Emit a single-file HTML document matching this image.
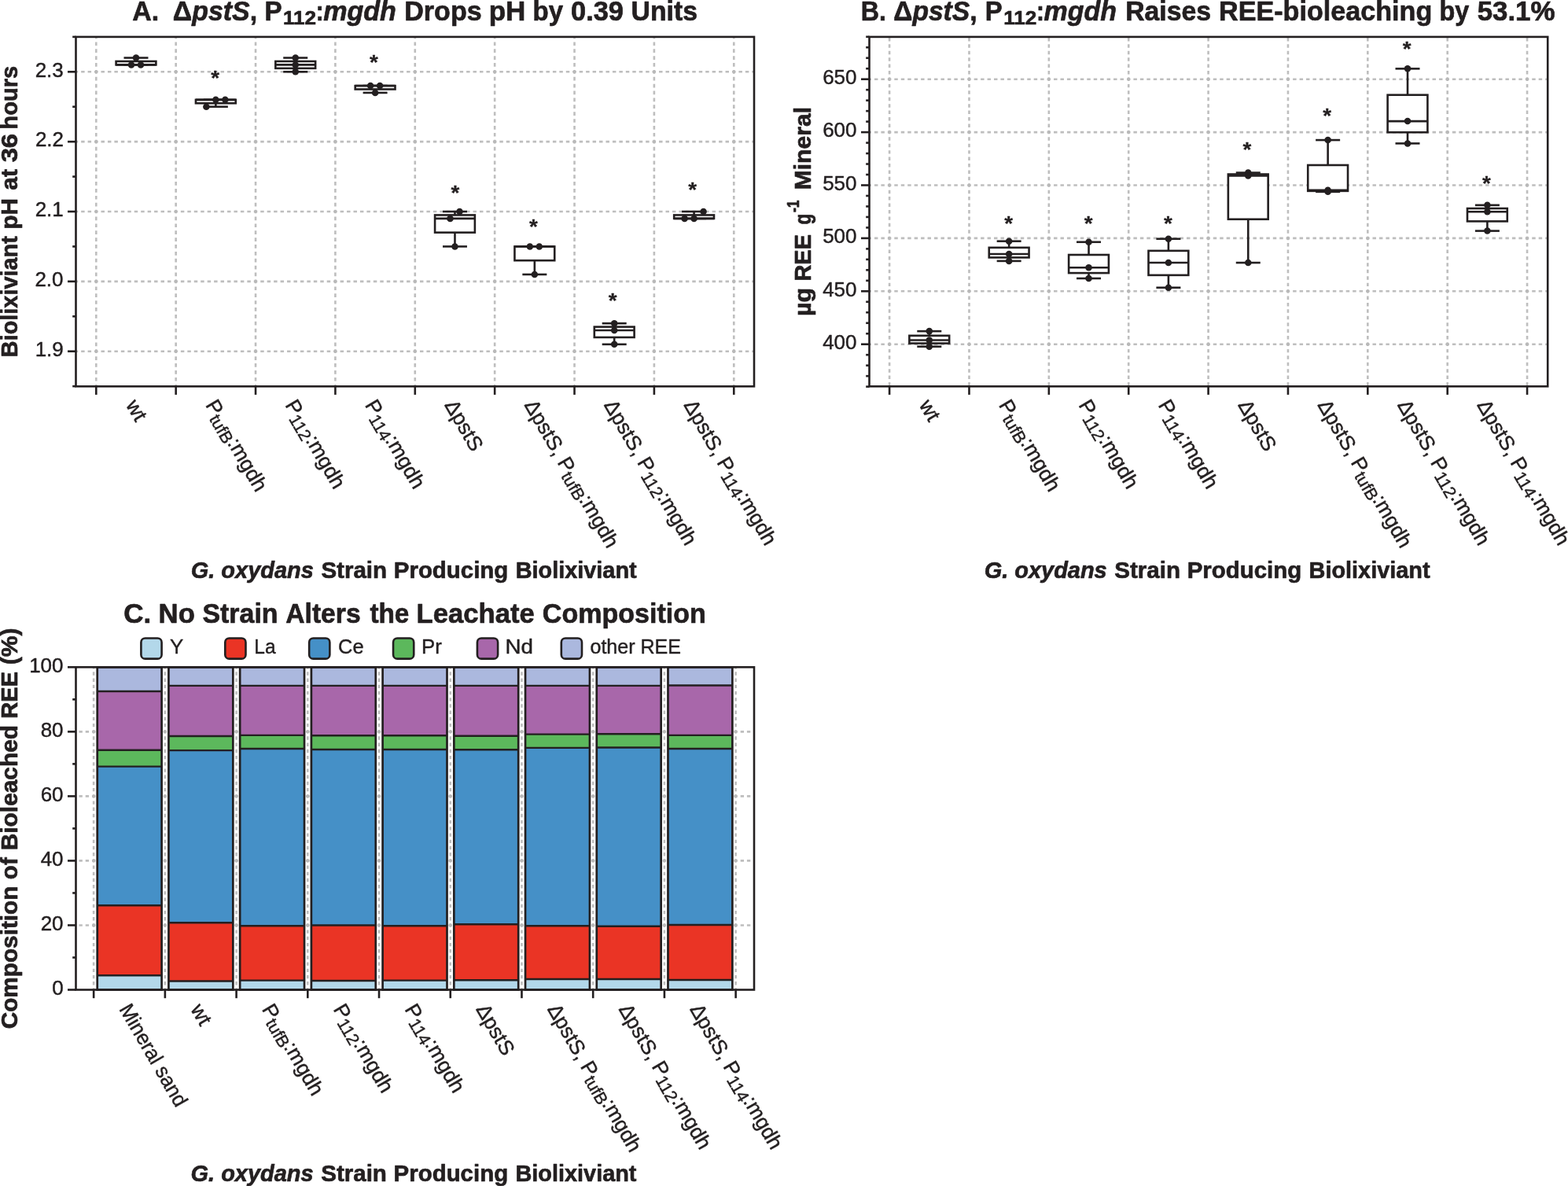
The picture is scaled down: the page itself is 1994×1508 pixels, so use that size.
<!DOCTYPE html>
<html lang="en">
<head>
<meta charset="utf-8">
<title>G. oxydans bioleaching figure</title>
<style>
html,body{margin:0;padding:0;background:#fff;}
body{width:1994px;height:1508px;overflow:hidden;}
svg{display:block;}
text{font-family:'Liberation Sans', 'DejaVu Sans', sans-serif;fill:#231f20;stroke:#231f20;stroke-width:0.45px;stroke-linejoin:round;}
text.b{stroke-width:0.7px;}
</style>
</head>
<body>
<svg width="1994" height="1508" viewBox="0 0 1994 1508" role="img" aria-label="Figure: G. oxydans strain engineering lowers biolixiviant pH and raises rare earth element bioleaching">
<rect x="0" y="0" width="1994" height="1508" fill="#ffffff"/>
<line x1="96.5" y1="91.3" x2="959" y2="91.3" stroke="#bebebe" stroke-width="2.6" stroke-dasharray="4.477 3.97" stroke-dashoffset="1.781"/>
<line x1="96.5" y1="180.15" x2="959" y2="180.15" stroke="#bebebe" stroke-width="2.6" stroke-dasharray="4.477 3.97" stroke-dashoffset="1.781"/>
<line x1="96.5" y1="269" x2="959" y2="269" stroke="#bebebe" stroke-width="2.6" stroke-dasharray="4.477 3.97" stroke-dashoffset="1.781"/>
<line x1="96.5" y1="357.85" x2="959" y2="357.85" stroke="#bebebe" stroke-width="2.6" stroke-dasharray="4.477 3.97" stroke-dashoffset="1.781"/>
<line x1="96.5" y1="446.7" x2="959" y2="446.7" stroke="#bebebe" stroke-width="2.6" stroke-dasharray="4.477 3.97" stroke-dashoffset="1.781"/>
<line x1="122.3" y1="46.9" x2="122.3" y2="491.3" stroke="#bebebe" stroke-width="2.6" stroke-dasharray="4.709 4.176" stroke-dashoffset="2.38"/>
<line x1="223.67" y1="46.9" x2="223.67" y2="491.3" stroke="#bebebe" stroke-width="2.6" stroke-dasharray="4.709 4.176" stroke-dashoffset="2.38"/>
<line x1="325.04" y1="46.9" x2="325.04" y2="491.3" stroke="#bebebe" stroke-width="2.6" stroke-dasharray="4.709 4.176" stroke-dashoffset="2.38"/>
<line x1="426.41" y1="46.9" x2="426.41" y2="491.3" stroke="#bebebe" stroke-width="2.6" stroke-dasharray="4.709 4.176" stroke-dashoffset="2.38"/>
<line x1="527.78" y1="46.9" x2="527.78" y2="491.3" stroke="#bebebe" stroke-width="2.6" stroke-dasharray="4.709 4.176" stroke-dashoffset="2.38"/>
<line x1="629.15" y1="46.9" x2="629.15" y2="491.3" stroke="#bebebe" stroke-width="2.6" stroke-dasharray="4.709 4.176" stroke-dashoffset="2.38"/>
<line x1="730.52" y1="46.9" x2="730.52" y2="491.3" stroke="#bebebe" stroke-width="2.6" stroke-dasharray="4.709 4.176" stroke-dashoffset="2.38"/>
<line x1="831.89" y1="46.9" x2="831.89" y2="491.3" stroke="#bebebe" stroke-width="2.6" stroke-dasharray="4.709 4.176" stroke-dashoffset="2.38"/>
<line x1="933.26" y1="46.9" x2="933.26" y2="491.3" stroke="#bebebe" stroke-width="2.6" stroke-dasharray="4.709 4.176" stroke-dashoffset="2.38"/>
<circle cx="122.3" cy="91.3" r="2.1" fill="#b9b9b9"/>
<circle cx="223.67" cy="91.3" r="2.1" fill="#b9b9b9"/>
<circle cx="325.04" cy="91.3" r="2.1" fill="#b9b9b9"/>
<circle cx="426.41" cy="91.3" r="2.1" fill="#b9b9b9"/>
<circle cx="527.78" cy="91.3" r="2.1" fill="#b9b9b9"/>
<circle cx="629.15" cy="91.3" r="2.1" fill="#b9b9b9"/>
<circle cx="730.52" cy="91.3" r="2.1" fill="#b9b9b9"/>
<circle cx="831.89" cy="91.3" r="2.1" fill="#b9b9b9"/>
<circle cx="933.26" cy="91.3" r="2.1" fill="#b9b9b9"/>
<circle cx="122.3" cy="180.15" r="2.1" fill="#b9b9b9"/>
<circle cx="223.67" cy="180.15" r="2.1" fill="#b9b9b9"/>
<circle cx="325.04" cy="180.15" r="2.1" fill="#b9b9b9"/>
<circle cx="426.41" cy="180.15" r="2.1" fill="#b9b9b9"/>
<circle cx="527.78" cy="180.15" r="2.1" fill="#b9b9b9"/>
<circle cx="629.15" cy="180.15" r="2.1" fill="#b9b9b9"/>
<circle cx="730.52" cy="180.15" r="2.1" fill="#b9b9b9"/>
<circle cx="831.89" cy="180.15" r="2.1" fill="#b9b9b9"/>
<circle cx="933.26" cy="180.15" r="2.1" fill="#b9b9b9"/>
<circle cx="122.3" cy="269" r="2.1" fill="#b9b9b9"/>
<circle cx="223.67" cy="269" r="2.1" fill="#b9b9b9"/>
<circle cx="325.04" cy="269" r="2.1" fill="#b9b9b9"/>
<circle cx="426.41" cy="269" r="2.1" fill="#b9b9b9"/>
<circle cx="527.78" cy="269" r="2.1" fill="#b9b9b9"/>
<circle cx="629.15" cy="269" r="2.1" fill="#b9b9b9"/>
<circle cx="730.52" cy="269" r="2.1" fill="#b9b9b9"/>
<circle cx="831.89" cy="269" r="2.1" fill="#b9b9b9"/>
<circle cx="933.26" cy="269" r="2.1" fill="#b9b9b9"/>
<circle cx="122.3" cy="357.85" r="2.1" fill="#b9b9b9"/>
<circle cx="223.67" cy="357.85" r="2.1" fill="#b9b9b9"/>
<circle cx="325.04" cy="357.85" r="2.1" fill="#b9b9b9"/>
<circle cx="426.41" cy="357.85" r="2.1" fill="#b9b9b9"/>
<circle cx="527.78" cy="357.85" r="2.1" fill="#b9b9b9"/>
<circle cx="629.15" cy="357.85" r="2.1" fill="#b9b9b9"/>
<circle cx="730.52" cy="357.85" r="2.1" fill="#b9b9b9"/>
<circle cx="831.89" cy="357.85" r="2.1" fill="#b9b9b9"/>
<circle cx="933.26" cy="357.85" r="2.1" fill="#b9b9b9"/>
<circle cx="122.3" cy="446.7" r="2.1" fill="#b9b9b9"/>
<circle cx="223.67" cy="446.7" r="2.1" fill="#b9b9b9"/>
<circle cx="325.04" cy="446.7" r="2.1" fill="#b9b9b9"/>
<circle cx="426.41" cy="446.7" r="2.1" fill="#b9b9b9"/>
<circle cx="527.78" cy="446.7" r="2.1" fill="#b9b9b9"/>
<circle cx="629.15" cy="446.7" r="2.1" fill="#b9b9b9"/>
<circle cx="730.52" cy="446.7" r="2.1" fill="#b9b9b9"/>
<circle cx="831.89" cy="446.7" r="2.1" fill="#b9b9b9"/>
<circle cx="933.26" cy="446.7" r="2.1" fill="#b9b9b9"/>
<line x1="86" y1="91.3" x2="96.5" y2="91.3" stroke="#231f20" stroke-width="2.6" />
<line x1="86" y1="180.15" x2="96.5" y2="180.15" stroke="#231f20" stroke-width="2.6" />
<line x1="86" y1="269" x2="96.5" y2="269" stroke="#231f20" stroke-width="2.6" />
<line x1="86" y1="357.85" x2="96.5" y2="357.85" stroke="#231f20" stroke-width="2.6" />
<line x1="86" y1="446.7" x2="96.5" y2="446.7" stroke="#231f20" stroke-width="2.6" />
<line x1="92.2" y1="46.88" x2="96.5" y2="46.88" stroke="#231f20" stroke-width="2.6" />
<line x1="92.2" y1="135.72" x2="96.5" y2="135.72" stroke="#231f20" stroke-width="2.6" />
<line x1="92.2" y1="224.57" x2="96.5" y2="224.57" stroke="#231f20" stroke-width="2.6" />
<line x1="92.2" y1="313.43" x2="96.5" y2="313.43" stroke="#231f20" stroke-width="2.6" />
<line x1="92.2" y1="402.27" x2="96.5" y2="402.27" stroke="#231f20" stroke-width="2.6" />
<line x1="92.2" y1="491.12" x2="96.5" y2="491.12" stroke="#231f20" stroke-width="2.6" />
<line x1="122.3" y1="491.3" x2="122.3" y2="501.9" stroke="#231f20" stroke-width="2.6" />
<line x1="223.67" y1="491.3" x2="223.67" y2="501.9" stroke="#231f20" stroke-width="2.6" />
<line x1="325.04" y1="491.3" x2="325.04" y2="501.9" stroke="#231f20" stroke-width="2.6" />
<line x1="426.41" y1="491.3" x2="426.41" y2="501.9" stroke="#231f20" stroke-width="2.6" />
<line x1="527.78" y1="491.3" x2="527.78" y2="501.9" stroke="#231f20" stroke-width="2.6" />
<line x1="629.15" y1="491.3" x2="629.15" y2="501.9" stroke="#231f20" stroke-width="2.6" />
<line x1="730.52" y1="491.3" x2="730.52" y2="501.9" stroke="#231f20" stroke-width="2.6" />
<line x1="831.89" y1="491.3" x2="831.89" y2="501.9" stroke="#231f20" stroke-width="2.6" />
<line x1="933.26" y1="491.3" x2="933.26" y2="501.9" stroke="#231f20" stroke-width="2.6" />
<rect x="96.5" y="46.9" width="862.5" height="444.4" fill="none" stroke="#231f20" stroke-width="2.6"/>
<text transform="translate(44.65 97.6) scale(1 1)" font-size="26">2.3</text>
<text transform="translate(44.9 186.45) scale(1 1)" font-size="26">2.2</text>
<text transform="translate(44.65 275.3) scale(1 1)" font-size="26">2.1</text>
<text transform="translate(44.4 364.15) scale(1 1)" font-size="26">2.0</text>
<text transform="translate(44.65 453) scale(1 1)" font-size="26">1.9</text>
<line x1="172.99" y1="77.97" x2="172.99" y2="73.53" stroke="#231f20" stroke-width="2.6" />
<line x1="157.49" y1="73.53" x2="188.49" y2="73.53" stroke="#231f20" stroke-width="2.6" />
<line x1="157.49" y1="82.41" x2="188.49" y2="82.41" stroke="#231f20" stroke-width="2.6" />
<rect x="147.59" y="77.97" width="50.8" height="4.44" fill="#fff" stroke="#231f20" stroke-width="2.6"/>
<line x1="147.59" y1="82.41" x2="198.39" y2="82.41" stroke="#231f20" stroke-width="2.6" />
<circle cx="172.99" cy="73.53" r="4.25" fill="#231f20"/>
<circle cx="166.99" cy="82.41" r="4.25" fill="#231f20"/>
<circle cx="178.99" cy="82.41" r="4.25" fill="#231f20"/>
<line x1="274.36" y1="131.28" x2="274.36" y2="135.72" stroke="#231f20" stroke-width="2.6" />
<line x1="258.86" y1="126.84" x2="289.86" y2="126.84" stroke="#231f20" stroke-width="2.6" />
<line x1="258.86" y1="135.72" x2="289.86" y2="135.72" stroke="#231f20" stroke-width="2.6" />
<rect x="248.96" y="126.84" width="50.8" height="4.44" fill="#fff" stroke="#231f20" stroke-width="2.6"/>
<line x1="248.96" y1="126.84" x2="299.75" y2="126.84" stroke="#231f20" stroke-width="2.6" />
<circle cx="262.36" cy="135.72" r="4.25" fill="#231f20"/>
<circle cx="274.36" cy="126.84" r="4.25" fill="#231f20"/>
<circle cx="286.36" cy="126.84" r="4.25" fill="#231f20"/>
<text transform="translate(268.3 108.42) scale(1 0.91)" font-size="27.8" font-weight="bold" style="stroke-width:0.3px">*</text>
<line x1="375.73" y1="77.97" x2="375.73" y2="73.53" stroke="#231f20" stroke-width="2.6" />
<line x1="375.73" y1="86.86" x2="375.73" y2="91.3" stroke="#231f20" stroke-width="2.6" />
<line x1="360.23" y1="73.53" x2="391.23" y2="73.53" stroke="#231f20" stroke-width="2.6" />
<line x1="360.23" y1="91.3" x2="391.23" y2="91.3" stroke="#231f20" stroke-width="2.6" />
<rect x="350.33" y="77.97" width="50.8" height="8.89" fill="#fff" stroke="#231f20" stroke-width="2.6"/>
<line x1="350.33" y1="82.41" x2="401.12" y2="82.41" stroke="#231f20" stroke-width="2.6" />
<circle cx="375.73" cy="73.53" r="4.25" fill="#231f20"/>
<circle cx="375.73" cy="82.41" r="4.25" fill="#231f20"/>
<circle cx="375.73" cy="91.3" r="4.25" fill="#231f20"/>
<line x1="477.1" y1="113.51" x2="477.1" y2="117.95" stroke="#231f20" stroke-width="2.6" />
<line x1="461.6" y1="109.07" x2="492.6" y2="109.07" stroke="#231f20" stroke-width="2.6" />
<line x1="461.6" y1="117.95" x2="492.6" y2="117.95" stroke="#231f20" stroke-width="2.6" />
<rect x="451.7" y="109.07" width="50.8" height="4.44" fill="#fff" stroke="#231f20" stroke-width="2.6"/>
<line x1="451.7" y1="109.07" x2="502.5" y2="109.07" stroke="#231f20" stroke-width="2.6" />
<circle cx="471.1" cy="109.07" r="4.25" fill="#231f20"/>
<circle cx="483.1" cy="109.07" r="4.25" fill="#231f20"/>
<circle cx="477.1" cy="117.95" r="4.25" fill="#231f20"/>
<text transform="translate(469.9 87.52) scale(1 0.91)" font-size="27.8" font-weight="bold" style="stroke-width:0.3px">*</text>
<line x1="578.47" y1="273.44" x2="578.47" y2="269" stroke="#231f20" stroke-width="2.6" />
<line x1="578.47" y1="295.65" x2="578.47" y2="313.43" stroke="#231f20" stroke-width="2.6" />
<line x1="562.97" y1="269" x2="593.97" y2="269" stroke="#231f20" stroke-width="2.6" />
<line x1="562.97" y1="313.43" x2="593.97" y2="313.43" stroke="#231f20" stroke-width="2.6" />
<rect x="553.07" y="273.44" width="50.8" height="22.21" fill="#fff" stroke="#231f20" stroke-width="2.6"/>
<line x1="553.07" y1="277.88" x2="603.87" y2="277.88" stroke="#231f20" stroke-width="2.6" />
<circle cx="584.47" cy="269" r="4.25" fill="#231f20"/>
<circle cx="572.47" cy="277.88" r="4.25" fill="#231f20"/>
<circle cx="578.47" cy="313.43" r="4.25" fill="#231f20"/>
<text transform="translate(573.5 254.12) scale(1 0.91)" font-size="27.8" font-weight="bold" style="stroke-width:0.3px">*</text>
<line x1="679.84" y1="331.19" x2="679.84" y2="348.97" stroke="#231f20" stroke-width="2.6" />
<line x1="664.34" y1="313.43" x2="695.34" y2="313.43" stroke="#231f20" stroke-width="2.6" />
<line x1="664.34" y1="348.97" x2="695.34" y2="348.97" stroke="#231f20" stroke-width="2.6" />
<rect x="654.44" y="313.43" width="50.8" height="17.77" fill="#fff" stroke="#231f20" stroke-width="2.6"/>
<line x1="654.44" y1="313.43" x2="705.24" y2="313.43" stroke="#231f20" stroke-width="2.6" />
<circle cx="673.84" cy="313.43" r="4.25" fill="#231f20"/>
<circle cx="685.84" cy="313.43" r="4.25" fill="#231f20"/>
<circle cx="679.84" cy="348.97" r="4.25" fill="#231f20"/>
<text transform="translate(673.1 296.82) scale(1 0.91)" font-size="27.8" font-weight="bold" style="stroke-width:0.3px">*</text>
<line x1="781.2" y1="415.6" x2="781.2" y2="411.16" stroke="#231f20" stroke-width="2.6" />
<line x1="781.2" y1="428.93" x2="781.2" y2="437.81" stroke="#231f20" stroke-width="2.6" />
<line x1="765.7" y1="411.16" x2="796.7" y2="411.16" stroke="#231f20" stroke-width="2.6" />
<line x1="765.7" y1="437.81" x2="796.7" y2="437.81" stroke="#231f20" stroke-width="2.6" />
<rect x="755.8" y="415.6" width="50.8" height="13.33" fill="#fff" stroke="#231f20" stroke-width="2.6"/>
<line x1="755.8" y1="420.04" x2="806.6" y2="420.04" stroke="#231f20" stroke-width="2.6" />
<circle cx="781.2" cy="411.16" r="4.25" fill="#231f20"/>
<circle cx="781.2" cy="420.04" r="4.25" fill="#231f20"/>
<circle cx="781.2" cy="437.81" r="4.25" fill="#231f20"/>
<text transform="translate(773.7 390.82) scale(1 0.91)" font-size="27.8" font-weight="bold" style="stroke-width:0.3px">*</text>
<line x1="882.58" y1="273.44" x2="882.58" y2="269" stroke="#231f20" stroke-width="2.6" />
<line x1="867.08" y1="269" x2="898.08" y2="269" stroke="#231f20" stroke-width="2.6" />
<line x1="867.08" y1="277.88" x2="898.08" y2="277.88" stroke="#231f20" stroke-width="2.6" />
<rect x="857.18" y="273.44" width="50.8" height="4.44" fill="#fff" stroke="#231f20" stroke-width="2.6"/>
<line x1="857.18" y1="277.88" x2="907.98" y2="277.88" stroke="#231f20" stroke-width="2.6" />
<circle cx="894.58" cy="269" r="4.25" fill="#231f20"/>
<circle cx="870.58" cy="277.88" r="4.25" fill="#231f20"/>
<circle cx="882.58" cy="277.88" r="4.25" fill="#231f20"/>
<text transform="translate(875.2 249.82) scale(1 0.91)" font-size="27.8" font-weight="bold" style="stroke-width:0.3px">*</text>
<text transform="translate(159.39 514.8) rotate(60)" font-size="26.4">wt</text>
<text transform="translate(260.75 514.8) rotate(60)" font-size="26.4">P<tspan font-size="21.65" dy="4.7">tufB</tspan><tspan dy="-4.7">:mgdh</tspan></text>
<text transform="translate(362.12 514.8) rotate(60)" font-size="26.4">P<tspan font-size="21.65" dy="4.7">112</tspan><tspan dy="-4.7">:mgdh</tspan></text>
<text transform="translate(463.5 514.8) rotate(60)" font-size="26.4">P<tspan font-size="21.65" dy="4.7">114</tspan><tspan dy="-4.7">:mgdh</tspan></text>
<text transform="translate(564.87 514.8) rotate(60)" font-size="26.4">ΔpstS</text>
<text transform="translate(666.24 514.8) rotate(60) scale(0.99 1)" font-size="26.4">ΔpstS, P<tspan font-size="21.65" dy="4.7">tufB</tspan><tspan dy="-4.7">:mgdh</tspan></text>
<text transform="translate(767.6 514.8) rotate(60) scale(0.99 1)" font-size="26.4">ΔpstS, P<tspan font-size="21.65" dy="4.7">112</tspan><tspan dy="-4.7">:mgdh</tspan></text>
<text transform="translate(868.98 514.8) rotate(60) scale(0.99 1)" font-size="26.4">ΔpstS, P<tspan font-size="21.65" dy="4.7">114</tspan><tspan dy="-4.7">:mgdh</tspan></text>
<text transform="translate(168.212 25.9) scale(0.9767 1)" font-size="34.8" font-weight="bold" class="b">A.</text>
<text transform="translate(219.826 25.9) scale(0.9744 1)" font-size="34.8" font-weight="bold" class="b">Δ<tspan font-style="italic">pstS</tspan>,</text>
<text transform="translate(336.488 25.9) scale(0.9561 1)" font-size="34.8" font-weight="bold" class="b">P</text>
<text transform="translate(359.969 31.1) scale(1.0649 1)" font-size="24.5" font-weight="bold" class="b">112</text>
<text transform="translate(401.736 25.9) scale(0.8545 1)" font-size="34.8" font-weight="bold" class="b">:</text>
<text transform="translate(411.155 25.9) scale(0.9802 1)" font-size="34.8" font-weight="bold" class="b"><tspan font-style="italic">mgdh</tspan></text>
<text transform="translate(514.241 25.9) scale(0.9795 1)" font-size="34.8" font-weight="bold" class="b">Drops</text>
<text transform="translate(621.686 25.9) scale(1.0071 1)" font-size="34.8" font-weight="bold" class="b">pH</text>
<text transform="translate(677.603 25.9) scale(0.9487 1)" font-size="34.8" font-weight="bold" class="b">by</text>
<text transform="translate(726.011 25.9) scale(0.9886 1)" font-size="34.8" font-weight="bold" class="b">0.39</text>
<text transform="translate(802.603 25.9) scale(0.9697 1)" font-size="34.8" font-weight="bold" class="b">Units</text>
<text transform="translate(22.2 452.7) rotate(-90) translate(-1.467 0) scale(0.9527 1)" font-size="30.3" font-weight="bold" class="b">Biolixiviant</text>
<text transform="translate(22.2 452.7) rotate(-90) translate(161.234 0) scale(0.9772 1)" font-size="30.3" font-weight="bold" class="b">pH</text>
<text transform="translate(22.2 452.7) rotate(-90) translate(211.008 0) scale(0.9849 1)" font-size="30.3" font-weight="bold" class="b">at</text>
<text transform="translate(22.2 452.7) rotate(-90) translate(246.33 0) scale(1.0809 1)" font-size="30.3" font-weight="bold" class="b">36</text>
<text transform="translate(22.2 452.7) rotate(-90) translate(288.014 0) scale(0.9632 1)" font-size="30.3" font-weight="bold" class="b">hours</text>
<text transform="translate(242.744 735) scale(0.9558 1)" font-size="30.3" font-weight="bold" class="b" font-style="italic">G. oxydans</text>
<text transform="translate(408.412 735) scale(0.975 1)" font-size="30.3" font-weight="bold" class="b">Strain</text>
<text transform="translate(500.799 735) scale(0.972 1)" font-size="30.3" font-weight="bold" class="b">Producing</text>
<text transform="translate(655.632 735) scale(0.9534 1)" font-size="30.3" font-weight="bold" class="b">Biolixiviant</text>
<line x1="1105.5" y1="100.7" x2="1968.2" y2="100.7" stroke="#bebebe" stroke-width="2.6" stroke-dasharray="4.477 3.97" stroke-dashoffset="1.981"/>
<line x1="1105.5" y1="168.1" x2="1968.2" y2="168.1" stroke="#bebebe" stroke-width="2.6" stroke-dasharray="4.477 3.97" stroke-dashoffset="1.981"/>
<line x1="1105.5" y1="235.5" x2="1968.2" y2="235.5" stroke="#bebebe" stroke-width="2.6" stroke-dasharray="4.477 3.97" stroke-dashoffset="1.981"/>
<line x1="1105.5" y1="302.9" x2="1968.2" y2="302.9" stroke="#bebebe" stroke-width="2.6" stroke-dasharray="4.477 3.97" stroke-dashoffset="1.981"/>
<line x1="1105.5" y1="370.3" x2="1968.2" y2="370.3" stroke="#bebebe" stroke-width="2.6" stroke-dasharray="4.477 3.97" stroke-dashoffset="1.981"/>
<line x1="1105.5" y1="437.7" x2="1968.2" y2="437.7" stroke="#bebebe" stroke-width="2.6" stroke-dasharray="4.477 3.97" stroke-dashoffset="1.981"/>
<line x1="1131.1" y1="46.9" x2="1131.1" y2="491.3" stroke="#bebebe" stroke-width="2.6" stroke-dasharray="4.465 3.96" stroke-dashoffset="7.408"/>
<line x1="1232.47" y1="46.9" x2="1232.47" y2="491.3" stroke="#bebebe" stroke-width="2.6" stroke-dasharray="4.465 3.96" stroke-dashoffset="7.408"/>
<line x1="1333.84" y1="46.9" x2="1333.84" y2="491.3" stroke="#bebebe" stroke-width="2.6" stroke-dasharray="4.465 3.96" stroke-dashoffset="7.408"/>
<line x1="1435.21" y1="46.9" x2="1435.21" y2="491.3" stroke="#bebebe" stroke-width="2.6" stroke-dasharray="4.465 3.96" stroke-dashoffset="7.408"/>
<line x1="1536.58" y1="46.9" x2="1536.58" y2="491.3" stroke="#bebebe" stroke-width="2.6" stroke-dasharray="4.465 3.96" stroke-dashoffset="7.408"/>
<line x1="1637.95" y1="46.9" x2="1637.95" y2="491.3" stroke="#bebebe" stroke-width="2.6" stroke-dasharray="4.465 3.96" stroke-dashoffset="7.408"/>
<line x1="1739.32" y1="46.9" x2="1739.32" y2="491.3" stroke="#bebebe" stroke-width="2.6" stroke-dasharray="4.465 3.96" stroke-dashoffset="7.408"/>
<line x1="1840.69" y1="46.9" x2="1840.69" y2="491.3" stroke="#bebebe" stroke-width="2.6" stroke-dasharray="4.465 3.96" stroke-dashoffset="7.408"/>
<line x1="1942.06" y1="46.9" x2="1942.06" y2="491.3" stroke="#bebebe" stroke-width="2.6" stroke-dasharray="4.465 3.96" stroke-dashoffset="7.408"/>
<circle cx="1131.1" cy="100.7" r="2.1" fill="#b9b9b9"/>
<circle cx="1232.47" cy="100.7" r="2.1" fill="#b9b9b9"/>
<circle cx="1333.84" cy="100.7" r="2.1" fill="#b9b9b9"/>
<circle cx="1435.21" cy="100.7" r="2.1" fill="#b9b9b9"/>
<circle cx="1536.58" cy="100.7" r="2.1" fill="#b9b9b9"/>
<circle cx="1637.95" cy="100.7" r="2.1" fill="#b9b9b9"/>
<circle cx="1739.32" cy="100.7" r="2.1" fill="#b9b9b9"/>
<circle cx="1840.69" cy="100.7" r="2.1" fill="#b9b9b9"/>
<circle cx="1942.06" cy="100.7" r="2.1" fill="#b9b9b9"/>
<circle cx="1131.1" cy="168.1" r="2.1" fill="#b9b9b9"/>
<circle cx="1232.47" cy="168.1" r="2.1" fill="#b9b9b9"/>
<circle cx="1333.84" cy="168.1" r="2.1" fill="#b9b9b9"/>
<circle cx="1435.21" cy="168.1" r="2.1" fill="#b9b9b9"/>
<circle cx="1536.58" cy="168.1" r="2.1" fill="#b9b9b9"/>
<circle cx="1637.95" cy="168.1" r="2.1" fill="#b9b9b9"/>
<circle cx="1739.32" cy="168.1" r="2.1" fill="#b9b9b9"/>
<circle cx="1840.69" cy="168.1" r="2.1" fill="#b9b9b9"/>
<circle cx="1942.06" cy="168.1" r="2.1" fill="#b9b9b9"/>
<circle cx="1131.1" cy="235.5" r="2.1" fill="#b9b9b9"/>
<circle cx="1232.47" cy="235.5" r="2.1" fill="#b9b9b9"/>
<circle cx="1333.84" cy="235.5" r="2.1" fill="#b9b9b9"/>
<circle cx="1435.21" cy="235.5" r="2.1" fill="#b9b9b9"/>
<circle cx="1536.58" cy="235.5" r="2.1" fill="#b9b9b9"/>
<circle cx="1637.95" cy="235.5" r="2.1" fill="#b9b9b9"/>
<circle cx="1739.32" cy="235.5" r="2.1" fill="#b9b9b9"/>
<circle cx="1840.69" cy="235.5" r="2.1" fill="#b9b9b9"/>
<circle cx="1942.06" cy="235.5" r="2.1" fill="#b9b9b9"/>
<circle cx="1131.1" cy="302.9" r="2.1" fill="#b9b9b9"/>
<circle cx="1232.47" cy="302.9" r="2.1" fill="#b9b9b9"/>
<circle cx="1333.84" cy="302.9" r="2.1" fill="#b9b9b9"/>
<circle cx="1435.21" cy="302.9" r="2.1" fill="#b9b9b9"/>
<circle cx="1536.58" cy="302.9" r="2.1" fill="#b9b9b9"/>
<circle cx="1637.95" cy="302.9" r="2.1" fill="#b9b9b9"/>
<circle cx="1739.32" cy="302.9" r="2.1" fill="#b9b9b9"/>
<circle cx="1840.69" cy="302.9" r="2.1" fill="#b9b9b9"/>
<circle cx="1942.06" cy="302.9" r="2.1" fill="#b9b9b9"/>
<circle cx="1131.1" cy="370.3" r="2.1" fill="#b9b9b9"/>
<circle cx="1232.47" cy="370.3" r="2.1" fill="#b9b9b9"/>
<circle cx="1333.84" cy="370.3" r="2.1" fill="#b9b9b9"/>
<circle cx="1435.21" cy="370.3" r="2.1" fill="#b9b9b9"/>
<circle cx="1536.58" cy="370.3" r="2.1" fill="#b9b9b9"/>
<circle cx="1637.95" cy="370.3" r="2.1" fill="#b9b9b9"/>
<circle cx="1739.32" cy="370.3" r="2.1" fill="#b9b9b9"/>
<circle cx="1840.69" cy="370.3" r="2.1" fill="#b9b9b9"/>
<circle cx="1942.06" cy="370.3" r="2.1" fill="#b9b9b9"/>
<circle cx="1131.1" cy="437.7" r="2.1" fill="#b9b9b9"/>
<circle cx="1232.47" cy="437.7" r="2.1" fill="#b9b9b9"/>
<circle cx="1333.84" cy="437.7" r="2.1" fill="#b9b9b9"/>
<circle cx="1435.21" cy="437.7" r="2.1" fill="#b9b9b9"/>
<circle cx="1536.58" cy="437.7" r="2.1" fill="#b9b9b9"/>
<circle cx="1637.95" cy="437.7" r="2.1" fill="#b9b9b9"/>
<circle cx="1739.32" cy="437.7" r="2.1" fill="#b9b9b9"/>
<circle cx="1840.69" cy="437.7" r="2.1" fill="#b9b9b9"/>
<circle cx="1942.06" cy="437.7" r="2.1" fill="#b9b9b9"/>
<line x1="1095" y1="100.7" x2="1105.5" y2="100.7" stroke="#231f20" stroke-width="2.6" />
<line x1="1095" y1="168.1" x2="1105.5" y2="168.1" stroke="#231f20" stroke-width="2.6" />
<line x1="1095" y1="235.5" x2="1105.5" y2="235.5" stroke="#231f20" stroke-width="2.6" />
<line x1="1095" y1="302.9" x2="1105.5" y2="302.9" stroke="#231f20" stroke-width="2.6" />
<line x1="1095" y1="370.3" x2="1105.5" y2="370.3" stroke="#231f20" stroke-width="2.6" />
<line x1="1095" y1="437.7" x2="1105.5" y2="437.7" stroke="#231f20" stroke-width="2.6" />
<line x1="1101.2" y1="491.62" x2="1105.5" y2="491.62" stroke="#231f20" stroke-width="2.6" />
<line x1="1101.2" y1="478.14" x2="1105.5" y2="478.14" stroke="#231f20" stroke-width="2.6" />
<line x1="1101.2" y1="464.66" x2="1105.5" y2="464.66" stroke="#231f20" stroke-width="2.6" />
<line x1="1101.2" y1="451.18" x2="1105.5" y2="451.18" stroke="#231f20" stroke-width="2.6" />
<line x1="1101.2" y1="424.22" x2="1105.5" y2="424.22" stroke="#231f20" stroke-width="2.6" />
<line x1="1101.2" y1="410.74" x2="1105.5" y2="410.74" stroke="#231f20" stroke-width="2.6" />
<line x1="1101.2" y1="397.26" x2="1105.5" y2="397.26" stroke="#231f20" stroke-width="2.6" />
<line x1="1101.2" y1="383.78" x2="1105.5" y2="383.78" stroke="#231f20" stroke-width="2.6" />
<line x1="1101.2" y1="356.82" x2="1105.5" y2="356.82" stroke="#231f20" stroke-width="2.6" />
<line x1="1101.2" y1="343.34" x2="1105.5" y2="343.34" stroke="#231f20" stroke-width="2.6" />
<line x1="1101.2" y1="329.86" x2="1105.5" y2="329.86" stroke="#231f20" stroke-width="2.6" />
<line x1="1101.2" y1="316.38" x2="1105.5" y2="316.38" stroke="#231f20" stroke-width="2.6" />
<line x1="1101.2" y1="289.42" x2="1105.5" y2="289.42" stroke="#231f20" stroke-width="2.6" />
<line x1="1101.2" y1="275.94" x2="1105.5" y2="275.94" stroke="#231f20" stroke-width="2.6" />
<line x1="1101.2" y1="262.46" x2="1105.5" y2="262.46" stroke="#231f20" stroke-width="2.6" />
<line x1="1101.2" y1="248.98" x2="1105.5" y2="248.98" stroke="#231f20" stroke-width="2.6" />
<line x1="1101.2" y1="222.02" x2="1105.5" y2="222.02" stroke="#231f20" stroke-width="2.6" />
<line x1="1101.2" y1="208.54" x2="1105.5" y2="208.54" stroke="#231f20" stroke-width="2.6" />
<line x1="1101.2" y1="195.06" x2="1105.5" y2="195.06" stroke="#231f20" stroke-width="2.6" />
<line x1="1101.2" y1="181.58" x2="1105.5" y2="181.58" stroke="#231f20" stroke-width="2.6" />
<line x1="1101.2" y1="154.62" x2="1105.5" y2="154.62" stroke="#231f20" stroke-width="2.6" />
<line x1="1101.2" y1="141.14" x2="1105.5" y2="141.14" stroke="#231f20" stroke-width="2.6" />
<line x1="1101.2" y1="127.66" x2="1105.5" y2="127.66" stroke="#231f20" stroke-width="2.6" />
<line x1="1101.2" y1="114.18" x2="1105.5" y2="114.18" stroke="#231f20" stroke-width="2.6" />
<line x1="1101.2" y1="87.22" x2="1105.5" y2="87.22" stroke="#231f20" stroke-width="2.6" />
<line x1="1101.2" y1="73.74" x2="1105.5" y2="73.74" stroke="#231f20" stroke-width="2.6" />
<line x1="1101.2" y1="60.26" x2="1105.5" y2="60.26" stroke="#231f20" stroke-width="2.6" />
<line x1="1101.2" y1="46.78" x2="1105.5" y2="46.78" stroke="#231f20" stroke-width="2.6" />
<line x1="1131.1" y1="491.3" x2="1131.1" y2="501.9" stroke="#231f20" stroke-width="2.6" />
<line x1="1232.47" y1="491.3" x2="1232.47" y2="501.9" stroke="#231f20" stroke-width="2.6" />
<line x1="1333.84" y1="491.3" x2="1333.84" y2="501.9" stroke="#231f20" stroke-width="2.6" />
<line x1="1435.21" y1="491.3" x2="1435.21" y2="501.9" stroke="#231f20" stroke-width="2.6" />
<line x1="1536.58" y1="491.3" x2="1536.58" y2="501.9" stroke="#231f20" stroke-width="2.6" />
<line x1="1637.95" y1="491.3" x2="1637.95" y2="501.9" stroke="#231f20" stroke-width="2.6" />
<line x1="1739.32" y1="491.3" x2="1739.32" y2="501.9" stroke="#231f20" stroke-width="2.6" />
<line x1="1840.69" y1="491.3" x2="1840.69" y2="501.9" stroke="#231f20" stroke-width="2.6" />
<line x1="1942.06" y1="491.3" x2="1942.06" y2="501.9" stroke="#231f20" stroke-width="2.6" />
<rect x="1105.5" y="46.9" width="862.7" height="444.4" fill="none" stroke="#231f20" stroke-width="2.6"/>
<text transform="translate(1046.15 107) scale(1 1)" font-size="26">650</text>
<text transform="translate(1046.15 174.4) scale(1 1)" font-size="26">600</text>
<text transform="translate(1046.15 241.8) scale(1 1)" font-size="26">550</text>
<text transform="translate(1046.15 309.2) scale(1 1)" font-size="26">500</text>
<text transform="translate(1046.15 376.6) scale(1 1)" font-size="26">450</text>
<text transform="translate(1046.15 444) scale(1 1)" font-size="26">400</text>
<line x1="1181.78" y1="426.78" x2="1181.78" y2="421.12" stroke="#231f20" stroke-width="2.6" />
<line x1="1181.78" y1="436.55" x2="1181.78" y2="440.67" stroke="#231f20" stroke-width="2.6" />
<line x1="1166.28" y1="421.12" x2="1197.28" y2="421.12" stroke="#231f20" stroke-width="2.6" />
<line x1="1166.28" y1="440.67" x2="1197.28" y2="440.67" stroke="#231f20" stroke-width="2.6" />
<rect x="1156.38" y="426.78" width="50.8" height="9.77" fill="#fff" stroke="#231f20" stroke-width="2.6"/>
<line x1="1156.38" y1="432.44" x2="1207.18" y2="432.44" stroke="#231f20" stroke-width="2.6" />
<circle cx="1181.78" cy="421.12" r="4.25" fill="#231f20"/>
<circle cx="1181.78" cy="432.44" r="4.25" fill="#231f20"/>
<circle cx="1181.78" cy="440.67" r="4.25" fill="#231f20"/>
<line x1="1283.15" y1="314.83" x2="1283.15" y2="306.67" stroke="#231f20" stroke-width="2.6" />
<line x1="1283.15" y1="327.43" x2="1283.15" y2="331.88" stroke="#231f20" stroke-width="2.6" />
<line x1="1267.65" y1="306.67" x2="1298.65" y2="306.67" stroke="#231f20" stroke-width="2.6" />
<line x1="1267.65" y1="331.88" x2="1298.65" y2="331.88" stroke="#231f20" stroke-width="2.6" />
<rect x="1257.75" y="314.83" width="50.8" height="12.6" fill="#fff" stroke="#231f20" stroke-width="2.6"/>
<line x1="1257.75" y1="322.99" x2="1308.56" y2="322.99" stroke="#231f20" stroke-width="2.6" />
<circle cx="1283.15" cy="306.67" r="4.25" fill="#231f20"/>
<circle cx="1283.15" cy="322.99" r="4.25" fill="#231f20"/>
<circle cx="1283.15" cy="331.88" r="4.25" fill="#231f20"/>
<text transform="translate(1277.2 292.72) scale(1 0.91)" font-size="27.8" font-weight="bold" style="stroke-width:0.3px">*</text>
<line x1="1384.52" y1="324" x2="1384.52" y2="307.75" stroke="#231f20" stroke-width="2.6" />
<line x1="1384.52" y1="347.11" x2="1384.52" y2="353.99" stroke="#231f20" stroke-width="2.6" />
<line x1="1369.02" y1="307.75" x2="1400.02" y2="307.75" stroke="#231f20" stroke-width="2.6" />
<line x1="1369.02" y1="353.99" x2="1400.02" y2="353.99" stroke="#231f20" stroke-width="2.6" />
<rect x="1359.12" y="324" width="50.8" height="23.12" fill="#fff" stroke="#231f20" stroke-width="2.6"/>
<line x1="1359.12" y1="340.24" x2="1409.92" y2="340.24" stroke="#231f20" stroke-width="2.6" />
<circle cx="1384.52" cy="307.75" r="4.25" fill="#231f20"/>
<circle cx="1384.52" cy="340.24" r="4.25" fill="#231f20"/>
<circle cx="1384.52" cy="353.99" r="4.25" fill="#231f20"/>
<text transform="translate(1378.7 292.72) scale(1 0.91)" font-size="27.8" font-weight="bold" style="stroke-width:0.3px">*</text>
<line x1="1485.89" y1="318.87" x2="1485.89" y2="303.71" stroke="#231f20" stroke-width="2.6" />
<line x1="1485.89" y1="349.88" x2="1485.89" y2="365.72" stroke="#231f20" stroke-width="2.6" />
<line x1="1470.39" y1="303.71" x2="1501.39" y2="303.71" stroke="#231f20" stroke-width="2.6" />
<line x1="1470.39" y1="365.72" x2="1501.39" y2="365.72" stroke="#231f20" stroke-width="2.6" />
<rect x="1460.49" y="318.87" width="50.8" height="31" fill="#fff" stroke="#231f20" stroke-width="2.6"/>
<line x1="1460.49" y1="334.04" x2="1511.3" y2="334.04" stroke="#231f20" stroke-width="2.6" />
<circle cx="1485.89" cy="303.71" r="4.25" fill="#231f20"/>
<circle cx="1485.89" cy="334.04" r="4.25" fill="#231f20"/>
<circle cx="1485.89" cy="365.72" r="4.25" fill="#231f20"/>
<text transform="translate(1480.1 292.72) scale(1 0.91)" font-size="27.8" font-weight="bold" style="stroke-width:0.3px">*</text>
<line x1="1587.26" y1="221.55" x2="1587.26" y2="219.59" stroke="#231f20" stroke-width="2.6" />
<line x1="1587.26" y1="278.77" x2="1587.26" y2="334.04" stroke="#231f20" stroke-width="2.6" />
<line x1="1571.76" y1="219.59" x2="1602.76" y2="219.59" stroke="#231f20" stroke-width="2.6" />
<line x1="1571.76" y1="334.04" x2="1602.76" y2="334.04" stroke="#231f20" stroke-width="2.6" />
<rect x="1561.86" y="221.55" width="50.8" height="57.22" fill="#fff" stroke="#231f20" stroke-width="2.6"/>
<line x1="1561.86" y1="223.5" x2="1612.66" y2="223.5" stroke="#231f20" stroke-width="2.6" />
<circle cx="1587.26" cy="219.59" r="4.25" fill="#231f20"/>
<circle cx="1587.26" cy="223.5" r="4.25" fill="#231f20"/>
<circle cx="1587.26" cy="334.04" r="4.25" fill="#231f20"/>
<text transform="translate(1580.5 198.82) scale(1 0.91)" font-size="27.8" font-weight="bold" style="stroke-width:0.3px">*</text>
<line x1="1688.63" y1="209.96" x2="1688.63" y2="178.08" stroke="#231f20" stroke-width="2.6" />
<line x1="1688.63" y1="242.85" x2="1688.63" y2="243.86" stroke="#231f20" stroke-width="2.6" />
<line x1="1673.13" y1="178.08" x2="1704.13" y2="178.08" stroke="#231f20" stroke-width="2.6" />
<line x1="1673.13" y1="243.86" x2="1704.13" y2="243.86" stroke="#231f20" stroke-width="2.6" />
<rect x="1663.23" y="209.96" width="50.8" height="32.89" fill="#fff" stroke="#231f20" stroke-width="2.6"/>
<line x1="1663.23" y1="241.84" x2="1714.04" y2="241.84" stroke="#231f20" stroke-width="2.6" />
<circle cx="1688.63" cy="178.08" r="4.25" fill="#231f20"/>
<circle cx="1688.63" cy="241.84" r="4.25" fill="#231f20"/>
<circle cx="1688.63" cy="243.86" r="4.25" fill="#231f20"/>
<text transform="translate(1682.2 155.92) scale(1 0.91)" font-size="27.8" font-weight="bold" style="stroke-width:0.3px">*</text>
<line x1="1790" y1="120.72" x2="1790" y2="87.35" stroke="#231f20" stroke-width="2.6" />
<line x1="1790" y1="168.23" x2="1790" y2="182.39" stroke="#231f20" stroke-width="2.6" />
<line x1="1774.5" y1="87.35" x2="1805.5" y2="87.35" stroke="#231f20" stroke-width="2.6" />
<line x1="1774.5" y1="182.39" x2="1805.5" y2="182.39" stroke="#231f20" stroke-width="2.6" />
<rect x="1764.6" y="120.72" width="50.8" height="47.52" fill="#fff" stroke="#231f20" stroke-width="2.6"/>
<line x1="1764.6" y1="154.08" x2="1815.4" y2="154.08" stroke="#231f20" stroke-width="2.6" />
<circle cx="1790" cy="87.35" r="4.25" fill="#231f20"/>
<circle cx="1790" cy="154.08" r="4.25" fill="#231f20"/>
<circle cx="1790" cy="182.39" r="4.25" fill="#231f20"/>
<text transform="translate(1783.7 70.62) scale(1 0.91)" font-size="27.8" font-weight="bold" style="stroke-width:0.3px">*</text>
<line x1="1891.38" y1="265.02" x2="1891.38" y2="260.84" stroke="#231f20" stroke-width="2.6" />
<line x1="1891.38" y1="281.4" x2="1891.38" y2="293.6" stroke="#231f20" stroke-width="2.6" />
<line x1="1875.88" y1="260.84" x2="1906.88" y2="260.84" stroke="#231f20" stroke-width="2.6" />
<line x1="1875.88" y1="293.6" x2="1906.88" y2="293.6" stroke="#231f20" stroke-width="2.6" />
<rect x="1865.97" y="265.02" width="50.8" height="16.38" fill="#fff" stroke="#231f20" stroke-width="2.6"/>
<line x1="1865.97" y1="269.2" x2="1916.78" y2="269.2" stroke="#231f20" stroke-width="2.6" />
<circle cx="1891.38" cy="260.84" r="4.25" fill="#231f20"/>
<circle cx="1891.38" cy="269.2" r="4.25" fill="#231f20"/>
<circle cx="1891.38" cy="293.6" r="4.25" fill="#231f20"/>
<text transform="translate(1885 242.12) scale(1 0.91)" font-size="27.8" font-weight="bold" style="stroke-width:0.3px">*</text>
<text transform="translate(1168.18 514.8) rotate(60)" font-size="26.4">wt</text>
<text transform="translate(1269.56 514.8) rotate(60)" font-size="26.4">P<tspan font-size="21.65" dy="4.7">tufB</tspan><tspan dy="-4.7">:mgdh</tspan></text>
<text transform="translate(1370.92 514.8) rotate(60)" font-size="26.4">P<tspan font-size="21.65" dy="4.7">112</tspan><tspan dy="-4.7">:mgdh</tspan></text>
<text transform="translate(1472.3 514.8) rotate(60)" font-size="26.4">P<tspan font-size="21.65" dy="4.7">114</tspan><tspan dy="-4.7">:mgdh</tspan></text>
<text transform="translate(1573.66 514.8) rotate(60)" font-size="26.4">ΔpstS</text>
<text transform="translate(1675.04 514.8) rotate(60) scale(0.99 1)" font-size="26.4">ΔpstS, P<tspan font-size="21.65" dy="4.7">tufB</tspan><tspan dy="-4.7">:mgdh</tspan></text>
<text transform="translate(1776.4 514.8) rotate(60) scale(0.99 1)" font-size="26.4">ΔpstS, P<tspan font-size="21.65" dy="4.7">112</tspan><tspan dy="-4.7">:mgdh</tspan></text>
<text transform="translate(1877.78 514.8) rotate(60) scale(0.99 1)" font-size="26.4">ΔpstS, P<tspan font-size="21.65" dy="4.7">114</tspan><tspan dy="-4.7">:mgdh</tspan></text>
<text transform="translate(1094.746 25.9) scale(0.9268 1)" font-size="34.8" font-weight="bold" class="b">B.</text>
<text transform="translate(1136.234 25.9) scale(0.966 1)" font-size="34.8" font-weight="bold" class="b">Δ<tspan font-style="italic">pstS</tspan>,</text>
<text transform="translate(1252.807 25.9) scale(0.9463 1)" font-size="34.8" font-weight="bold" class="b">P</text>
<text transform="translate(1276.169 31.1) scale(1.0649 1)" font-size="24.5" font-weight="bold" class="b">112</text>
<text transform="translate(1317.936 25.9) scale(0.8545 1)" font-size="34.8" font-weight="bold" class="b">:</text>
<text transform="translate(1327.456 25.9) scale(0.9759 1)" font-size="34.8" font-weight="bold" class="b"><tspan font-style="italic">mgdh</tspan></text>
<text transform="translate(1431.159 25.9) scale(0.9703 1)" font-size="34.8" font-weight="bold" class="b">Raises</text>
<text transform="translate(1550.037 25.9) scale(0.9813 1)" font-size="34.8" font-weight="bold" class="b">REE-bioleaching</text>
<text transform="translate(1830.538 25.9) scale(0.9308 1)" font-size="34.8" font-weight="bold" class="b">by</text>
<text transform="translate(1878.648 25.9) scale(1.0021 1)" font-size="34.8" font-weight="bold" class="b">53.1%</text>
<text transform="translate(1031 400.7) rotate(-90) translate(-1.307 0) scale(1.0046 1)" font-size="30.3" font-weight="bold" class="b">µg</text>
<text transform="translate(1031 400.7) rotate(-90) translate(43.128 0) scale(0.9556 1)" font-size="30.3" font-weight="bold" class="b">REE</text>
<text transform="translate(1031 400.7) rotate(-90) translate(115.237 0) scale(0.75 1)" font-size="30.3" font-weight="bold" class="b">g</text>
<text transform="translate(1031 400.7) rotate(-90) translate(130.595 -15) scale(0.8108 1)" font-size="21.5" font-weight="bold" class="b">-1</text>
<text transform="translate(1031 400.7) rotate(-90) translate(159.257 0) scale(0.9961 1)" font-size="30.3" font-weight="bold" class="b">Mineral</text>
<text transform="translate(1251.644 735) scale(0.9558 1)" font-size="30.3" font-weight="bold" class="b" font-style="italic">G. oxydans</text>
<text transform="translate(1417.313 735) scale(0.975 1)" font-size="30.3" font-weight="bold" class="b">Strain</text>
<text transform="translate(1509.699 735) scale(0.972 1)" font-size="30.3" font-weight="bold" class="b">Producing</text>
<text transform="translate(1664.532 735) scale(0.9534 1)" font-size="30.3" font-weight="bold" class="b">Biolixiviant</text>
<line x1="96.5" y1="1176.46" x2="959" y2="1176.46" stroke="#bebebe" stroke-width="2.6" stroke-dasharray="4.371 3.876" stroke-dashoffset="4.277"/>
<line x1="96.5" y1="1094.42" x2="959" y2="1094.42" stroke="#bebebe" stroke-width="2.6" stroke-dasharray="4.371 3.876" stroke-dashoffset="4.277"/>
<line x1="96.5" y1="1012.38" x2="959" y2="1012.38" stroke="#bebebe" stroke-width="2.6" stroke-dasharray="4.371 3.876" stroke-dashoffset="4.277"/>
<line x1="96.5" y1="930.34" x2="959" y2="930.34" stroke="#bebebe" stroke-width="2.6" stroke-dasharray="4.371 3.876" stroke-dashoffset="4.277"/>
<line x1="119.15" y1="848.3" x2="119.15" y2="1258.5" stroke="#bebebe" stroke-width="2.6" stroke-dasharray="4.348 3.856" stroke-dashoffset="2.174"/>
<line x1="209.87" y1="848.3" x2="209.87" y2="1258.5" stroke="#bebebe" stroke-width="2.6" stroke-dasharray="4.348 3.856" stroke-dashoffset="2.174"/>
<line x1="300.59" y1="848.3" x2="300.59" y2="1258.5" stroke="#bebebe" stroke-width="2.6" stroke-dasharray="4.348 3.856" stroke-dashoffset="2.174"/>
<line x1="391.31" y1="848.3" x2="391.31" y2="1258.5" stroke="#bebebe" stroke-width="2.6" stroke-dasharray="4.348 3.856" stroke-dashoffset="2.174"/>
<line x1="482.03" y1="848.3" x2="482.03" y2="1258.5" stroke="#bebebe" stroke-width="2.6" stroke-dasharray="4.348 3.856" stroke-dashoffset="2.174"/>
<line x1="572.75" y1="848.3" x2="572.75" y2="1258.5" stroke="#bebebe" stroke-width="2.6" stroke-dasharray="4.348 3.856" stroke-dashoffset="2.174"/>
<line x1="663.47" y1="848.3" x2="663.47" y2="1258.5" stroke="#bebebe" stroke-width="2.6" stroke-dasharray="4.348 3.856" stroke-dashoffset="2.174"/>
<line x1="754.19" y1="848.3" x2="754.19" y2="1258.5" stroke="#bebebe" stroke-width="2.6" stroke-dasharray="4.348 3.856" stroke-dashoffset="2.174"/>
<line x1="844.91" y1="848.3" x2="844.91" y2="1258.5" stroke="#bebebe" stroke-width="2.6" stroke-dasharray="4.348 3.856" stroke-dashoffset="2.174"/>
<line x1="935.63" y1="848.3" x2="935.63" y2="1258.5" stroke="#bebebe" stroke-width="2.6" stroke-dasharray="4.348 3.856" stroke-dashoffset="2.174"/>
<circle cx="119.15" cy="1176.46" r="2.1" fill="#b9b9b9"/>
<circle cx="209.87" cy="1176.46" r="2.1" fill="#b9b9b9"/>
<circle cx="300.59" cy="1176.46" r="2.1" fill="#b9b9b9"/>
<circle cx="391.31" cy="1176.46" r="2.1" fill="#b9b9b9"/>
<circle cx="482.03" cy="1176.46" r="2.1" fill="#b9b9b9"/>
<circle cx="572.75" cy="1176.46" r="2.1" fill="#b9b9b9"/>
<circle cx="663.47" cy="1176.46" r="2.1" fill="#b9b9b9"/>
<circle cx="754.19" cy="1176.46" r="2.1" fill="#b9b9b9"/>
<circle cx="844.91" cy="1176.46" r="2.1" fill="#b9b9b9"/>
<circle cx="935.63" cy="1176.46" r="2.1" fill="#b9b9b9"/>
<circle cx="119.15" cy="1094.42" r="2.1" fill="#b9b9b9"/>
<circle cx="209.87" cy="1094.42" r="2.1" fill="#b9b9b9"/>
<circle cx="300.59" cy="1094.42" r="2.1" fill="#b9b9b9"/>
<circle cx="391.31" cy="1094.42" r="2.1" fill="#b9b9b9"/>
<circle cx="482.03" cy="1094.42" r="2.1" fill="#b9b9b9"/>
<circle cx="572.75" cy="1094.42" r="2.1" fill="#b9b9b9"/>
<circle cx="663.47" cy="1094.42" r="2.1" fill="#b9b9b9"/>
<circle cx="754.19" cy="1094.42" r="2.1" fill="#b9b9b9"/>
<circle cx="844.91" cy="1094.42" r="2.1" fill="#b9b9b9"/>
<circle cx="935.63" cy="1094.42" r="2.1" fill="#b9b9b9"/>
<circle cx="119.15" cy="1012.38" r="2.1" fill="#b9b9b9"/>
<circle cx="209.87" cy="1012.38" r="2.1" fill="#b9b9b9"/>
<circle cx="300.59" cy="1012.38" r="2.1" fill="#b9b9b9"/>
<circle cx="391.31" cy="1012.38" r="2.1" fill="#b9b9b9"/>
<circle cx="482.03" cy="1012.38" r="2.1" fill="#b9b9b9"/>
<circle cx="572.75" cy="1012.38" r="2.1" fill="#b9b9b9"/>
<circle cx="663.47" cy="1012.38" r="2.1" fill="#b9b9b9"/>
<circle cx="754.19" cy="1012.38" r="2.1" fill="#b9b9b9"/>
<circle cx="844.91" cy="1012.38" r="2.1" fill="#b9b9b9"/>
<circle cx="935.63" cy="1012.38" r="2.1" fill="#b9b9b9"/>
<circle cx="119.15" cy="930.34" r="2.1" fill="#b9b9b9"/>
<circle cx="209.87" cy="930.34" r="2.1" fill="#b9b9b9"/>
<circle cx="300.59" cy="930.34" r="2.1" fill="#b9b9b9"/>
<circle cx="391.31" cy="930.34" r="2.1" fill="#b9b9b9"/>
<circle cx="482.03" cy="930.34" r="2.1" fill="#b9b9b9"/>
<circle cx="572.75" cy="930.34" r="2.1" fill="#b9b9b9"/>
<circle cx="663.47" cy="930.34" r="2.1" fill="#b9b9b9"/>
<circle cx="754.19" cy="930.34" r="2.1" fill="#b9b9b9"/>
<circle cx="844.91" cy="930.34" r="2.1" fill="#b9b9b9"/>
<circle cx="935.63" cy="930.34" r="2.1" fill="#b9b9b9"/>
<rect x="123.71" y="1240.21" width="81.9" height="18.29" fill="#b3d8ea"/>
<rect x="123.71" y="1151.23" width="81.9" height="88.97" fill="#ea3425"/>
<rect x="123.71" y="974.64" width="81.9" height="176.59" fill="#4590c7"/>
<rect x="123.71" y="953.72" width="81.9" height="20.92" fill="#5cb85c"/>
<rect x="123.71" y="879.06" width="81.9" height="74.66" fill="#a867aa"/>
<rect x="123.71" y="848.3" width="81.9" height="30.76" fill="#abb8de"/>
<line x1="123.71" y1="1240.21" x2="205.61" y2="1240.21" stroke="#231f20" stroke-width="2.45" />
<line x1="123.71" y1="1151.23" x2="205.61" y2="1151.23" stroke="#231f20" stroke-width="2.45" />
<line x1="123.71" y1="974.64" x2="205.61" y2="974.64" stroke="#231f20" stroke-width="2.45" />
<line x1="123.71" y1="953.72" x2="205.61" y2="953.72" stroke="#231f20" stroke-width="2.45" />
<line x1="123.71" y1="879.06" x2="205.61" y2="879.06" stroke="#231f20" stroke-width="2.45" />
<rect x="123.71" y="848.3" width="81.9" height="410.2" fill="none" stroke="#231f20" stroke-width="2.7"/>
<rect x="214.43" y="1247.42" width="81.9" height="11.08" fill="#b3d8ea"/>
<rect x="214.43" y="1173.18" width="81.9" height="74.25" fill="#ea3425"/>
<rect x="214.43" y="954.13" width="81.9" height="219.05" fill="#4590c7"/>
<rect x="214.43" y="936.08" width="81.9" height="18.05" fill="#5cb85c"/>
<rect x="214.43" y="871.89" width="81.9" height="64.2" fill="#a867aa"/>
<rect x="214.43" y="848.3" width="81.9" height="23.59" fill="#abb8de"/>
<line x1="214.43" y1="1247.42" x2="296.33" y2="1247.42" stroke="#231f20" stroke-width="2.45" />
<line x1="214.43" y1="1173.18" x2="296.33" y2="1173.18" stroke="#231f20" stroke-width="2.45" />
<line x1="214.43" y1="954.13" x2="296.33" y2="954.13" stroke="#231f20" stroke-width="2.45" />
<line x1="214.43" y1="936.08" x2="296.33" y2="936.08" stroke="#231f20" stroke-width="2.45" />
<line x1="214.43" y1="871.89" x2="296.33" y2="871.89" stroke="#231f20" stroke-width="2.45" />
<rect x="214.43" y="848.3" width="81.9" height="410.2" fill="none" stroke="#231f20" stroke-width="2.7"/>
<rect x="305.15" y="1246.6" width="81.9" height="11.9" fill="#b3d8ea"/>
<rect x="305.15" y="1177.28" width="81.9" height="69.32" fill="#ea3425"/>
<rect x="305.15" y="952.08" width="81.9" height="225.2" fill="#4590c7"/>
<rect x="305.15" y="934.85" width="81.9" height="17.23" fill="#5cb85c"/>
<rect x="305.15" y="871.89" width="81.9" height="62.97" fill="#a867aa"/>
<rect x="305.15" y="848.3" width="81.9" height="23.59" fill="#abb8de"/>
<line x1="305.15" y1="1246.6" x2="387.05" y2="1246.6" stroke="#231f20" stroke-width="2.45" />
<line x1="305.15" y1="1177.28" x2="387.05" y2="1177.28" stroke="#231f20" stroke-width="2.45" />
<line x1="305.15" y1="952.08" x2="387.05" y2="952.08" stroke="#231f20" stroke-width="2.45" />
<line x1="305.15" y1="934.85" x2="387.05" y2="934.85" stroke="#231f20" stroke-width="2.45" />
<line x1="305.15" y1="871.89" x2="387.05" y2="871.89" stroke="#231f20" stroke-width="2.45" />
<rect x="305.15" y="848.3" width="81.9" height="410.2" fill="none" stroke="#231f20" stroke-width="2.7"/>
<rect x="395.87" y="1247.01" width="81.9" height="11.49" fill="#b3d8ea"/>
<rect x="395.87" y="1176.46" width="81.9" height="70.55" fill="#ea3425"/>
<rect x="395.87" y="952.9" width="81.9" height="223.56" fill="#4590c7"/>
<rect x="395.87" y="935.26" width="81.9" height="17.64" fill="#5cb85c"/>
<rect x="395.87" y="871.89" width="81.9" height="63.38" fill="#a867aa"/>
<rect x="395.87" y="848.3" width="81.9" height="23.59" fill="#abb8de"/>
<line x1="395.87" y1="1247.01" x2="477.77" y2="1247.01" stroke="#231f20" stroke-width="2.45" />
<line x1="395.87" y1="1176.46" x2="477.77" y2="1176.46" stroke="#231f20" stroke-width="2.45" />
<line x1="395.87" y1="952.9" x2="477.77" y2="952.9" stroke="#231f20" stroke-width="2.45" />
<line x1="395.87" y1="935.26" x2="477.77" y2="935.26" stroke="#231f20" stroke-width="2.45" />
<line x1="395.87" y1="871.89" x2="477.77" y2="871.89" stroke="#231f20" stroke-width="2.45" />
<rect x="395.87" y="848.3" width="81.9" height="410.2" fill="none" stroke="#231f20" stroke-width="2.7"/>
<rect x="486.59" y="1246.6" width="81.9" height="11.9" fill="#b3d8ea"/>
<rect x="486.59" y="1177.28" width="81.9" height="69.32" fill="#ea3425"/>
<rect x="486.59" y="952.9" width="81.9" height="224.38" fill="#4590c7"/>
<rect x="486.59" y="935.26" width="81.9" height="17.64" fill="#5cb85c"/>
<rect x="486.59" y="871.89" width="81.9" height="63.38" fill="#a867aa"/>
<rect x="486.59" y="848.3" width="81.9" height="23.59" fill="#abb8de"/>
<line x1="486.59" y1="1246.6" x2="568.49" y2="1246.6" stroke="#231f20" stroke-width="2.45" />
<line x1="486.59" y1="1177.28" x2="568.49" y2="1177.28" stroke="#231f20" stroke-width="2.45" />
<line x1="486.59" y1="952.9" x2="568.49" y2="952.9" stroke="#231f20" stroke-width="2.45" />
<line x1="486.59" y1="935.26" x2="568.49" y2="935.26" stroke="#231f20" stroke-width="2.45" />
<line x1="486.59" y1="871.89" x2="568.49" y2="871.89" stroke="#231f20" stroke-width="2.45" />
<rect x="486.59" y="848.3" width="81.9" height="410.2" fill="none" stroke="#231f20" stroke-width="2.7"/>
<rect x="577.31" y="1246.19" width="81.9" height="12.31" fill="#b3d8ea"/>
<rect x="577.31" y="1175.23" width="81.9" height="70.96" fill="#ea3425"/>
<rect x="577.31" y="953.31" width="81.9" height="221.92" fill="#4590c7"/>
<rect x="577.31" y="935.67" width="81.9" height="17.64" fill="#5cb85c"/>
<rect x="577.31" y="871.89" width="81.9" height="63.79" fill="#a867aa"/>
<rect x="577.31" y="848.3" width="81.9" height="23.59" fill="#abb8de"/>
<line x1="577.31" y1="1246.19" x2="659.21" y2="1246.19" stroke="#231f20" stroke-width="2.45" />
<line x1="577.31" y1="1175.23" x2="659.21" y2="1175.23" stroke="#231f20" stroke-width="2.45" />
<line x1="577.31" y1="953.31" x2="659.21" y2="953.31" stroke="#231f20" stroke-width="2.45" />
<line x1="577.31" y1="935.67" x2="659.21" y2="935.67" stroke="#231f20" stroke-width="2.45" />
<line x1="577.31" y1="871.89" x2="659.21" y2="871.89" stroke="#231f20" stroke-width="2.45" />
<rect x="577.31" y="848.3" width="81.9" height="410.2" fill="none" stroke="#231f20" stroke-width="2.7"/>
<rect x="668.03" y="1244.96" width="81.9" height="13.54" fill="#b3d8ea"/>
<rect x="668.03" y="1177.28" width="81.9" height="67.68" fill="#ea3425"/>
<rect x="668.03" y="950.85" width="81.9" height="226.43" fill="#4590c7"/>
<rect x="668.03" y="933.62" width="81.9" height="17.23" fill="#5cb85c"/>
<rect x="668.03" y="871.89" width="81.9" height="61.74" fill="#a867aa"/>
<rect x="668.03" y="848.3" width="81.9" height="23.59" fill="#abb8de"/>
<line x1="668.03" y1="1244.96" x2="749.93" y2="1244.96" stroke="#231f20" stroke-width="2.45" />
<line x1="668.03" y1="1177.28" x2="749.93" y2="1177.28" stroke="#231f20" stroke-width="2.45" />
<line x1="668.03" y1="950.85" x2="749.93" y2="950.85" stroke="#231f20" stroke-width="2.45" />
<line x1="668.03" y1="933.62" x2="749.93" y2="933.62" stroke="#231f20" stroke-width="2.45" />
<line x1="668.03" y1="871.89" x2="749.93" y2="871.89" stroke="#231f20" stroke-width="2.45" />
<rect x="668.03" y="848.3" width="81.9" height="410.2" fill="none" stroke="#231f20" stroke-width="2.7"/>
<rect x="758.75" y="1244.96" width="81.9" height="13.54" fill="#b3d8ea"/>
<rect x="758.75" y="1177.69" width="81.9" height="67.27" fill="#ea3425"/>
<rect x="758.75" y="950.44" width="81.9" height="227.25" fill="#4590c7"/>
<rect x="758.75" y="933.21" width="81.9" height="17.23" fill="#5cb85c"/>
<rect x="758.75" y="871.89" width="81.9" height="61.32" fill="#a867aa"/>
<rect x="758.75" y="848.3" width="81.9" height="23.59" fill="#abb8de"/>
<line x1="758.75" y1="1244.96" x2="840.65" y2="1244.96" stroke="#231f20" stroke-width="2.45" />
<line x1="758.75" y1="1177.69" x2="840.65" y2="1177.69" stroke="#231f20" stroke-width="2.45" />
<line x1="758.75" y1="950.44" x2="840.65" y2="950.44" stroke="#231f20" stroke-width="2.45" />
<line x1="758.75" y1="933.21" x2="840.65" y2="933.21" stroke="#231f20" stroke-width="2.45" />
<line x1="758.75" y1="871.89" x2="840.65" y2="871.89" stroke="#231f20" stroke-width="2.45" />
<rect x="758.75" y="848.3" width="81.9" height="410.2" fill="none" stroke="#231f20" stroke-width="2.7"/>
<rect x="849.47" y="1245.99" width="81.9" height="12.51" fill="#b3d8ea"/>
<rect x="849.47" y="1176.05" width="81.9" height="69.94" fill="#ea3425"/>
<rect x="849.47" y="952.08" width="81.9" height="223.97" fill="#4590c7"/>
<rect x="849.47" y="934.85" width="81.9" height="17.23" fill="#5cb85c"/>
<rect x="849.47" y="871.48" width="81.9" height="63.38" fill="#a867aa"/>
<rect x="849.47" y="848.3" width="81.9" height="23.18" fill="#abb8de"/>
<line x1="849.47" y1="1245.99" x2="931.37" y2="1245.99" stroke="#231f20" stroke-width="2.45" />
<line x1="849.47" y1="1176.05" x2="931.37" y2="1176.05" stroke="#231f20" stroke-width="2.45" />
<line x1="849.47" y1="952.08" x2="931.37" y2="952.08" stroke="#231f20" stroke-width="2.45" />
<line x1="849.47" y1="934.85" x2="931.37" y2="934.85" stroke="#231f20" stroke-width="2.45" />
<line x1="849.47" y1="871.48" x2="931.37" y2="871.48" stroke="#231f20" stroke-width="2.45" />
<rect x="849.47" y="848.3" width="81.9" height="410.2" fill="none" stroke="#231f20" stroke-width="2.7"/>
<line x1="86" y1="1258.5" x2="96.5" y2="1258.5" stroke="#231f20" stroke-width="2.6" />
<line x1="86" y1="1176.46" x2="96.5" y2="1176.46" stroke="#231f20" stroke-width="2.6" />
<line x1="86" y1="1094.42" x2="96.5" y2="1094.42" stroke="#231f20" stroke-width="2.6" />
<line x1="86" y1="1012.38" x2="96.5" y2="1012.38" stroke="#231f20" stroke-width="2.6" />
<line x1="86" y1="930.34" x2="96.5" y2="930.34" stroke="#231f20" stroke-width="2.6" />
<line x1="86" y1="848.3" x2="96.5" y2="848.3" stroke="#231f20" stroke-width="2.6" />
<line x1="92.2" y1="1217.48" x2="96.5" y2="1217.48" stroke="#231f20" stroke-width="2.6" />
<line x1="92.2" y1="1135.44" x2="96.5" y2="1135.44" stroke="#231f20" stroke-width="2.6" />
<line x1="92.2" y1="1053.4" x2="96.5" y2="1053.4" stroke="#231f20" stroke-width="2.6" />
<line x1="92.2" y1="971.36" x2="96.5" y2="971.36" stroke="#231f20" stroke-width="2.6" />
<line x1="92.2" y1="889.32" x2="96.5" y2="889.32" stroke="#231f20" stroke-width="2.6" />
<line x1="119.15" y1="1258.5" x2="119.15" y2="1269.2" stroke="#231f20" stroke-width="2.6" />
<line x1="209.87" y1="1258.5" x2="209.87" y2="1269.2" stroke="#231f20" stroke-width="2.6" />
<line x1="300.59" y1="1258.5" x2="300.59" y2="1269.2" stroke="#231f20" stroke-width="2.6" />
<line x1="391.31" y1="1258.5" x2="391.31" y2="1269.2" stroke="#231f20" stroke-width="2.6" />
<line x1="482.03" y1="1258.5" x2="482.03" y2="1269.2" stroke="#231f20" stroke-width="2.6" />
<line x1="572.75" y1="1258.5" x2="572.75" y2="1269.2" stroke="#231f20" stroke-width="2.6" />
<line x1="663.47" y1="1258.5" x2="663.47" y2="1269.2" stroke="#231f20" stroke-width="2.6" />
<line x1="754.19" y1="1258.5" x2="754.19" y2="1269.2" stroke="#231f20" stroke-width="2.6" />
<line x1="844.91" y1="1258.5" x2="844.91" y2="1269.2" stroke="#231f20" stroke-width="2.6" />
<line x1="935.63" y1="1258.5" x2="935.63" y2="1269.2" stroke="#231f20" stroke-width="2.6" />
<rect x="96.5" y="848.3" width="862.5" height="410.2" fill="none" stroke="#231f20" stroke-width="2.6"/>
<text transform="translate(66.15 1264.8) scale(1 1)" font-size="26">0</text>
<text transform="translate(51.65 1182.76) scale(1 1)" font-size="26">20</text>
<text transform="translate(51.65 1100.72) scale(1 1)" font-size="26">40</text>
<text transform="translate(51.65 1018.68) scale(1 1)" font-size="26">60</text>
<text transform="translate(51.65 936.64) scale(1 1)" font-size="26">80</text>
<text transform="translate(37.15 854.6) scale(1 1)" font-size="26">100</text>
<rect x="179.4" y="811.5" width="26.2" height="26.1" rx="5.2" ry="5.2" fill="#b3d8ea" stroke="#231f20" stroke-width="2.6"/>
<text transform="translate(216.054 831) scale(0.9824 1)" font-size="26.4">Y</text>
<rect x="286.28" y="811.5" width="26.2" height="26.1" rx="5.2" ry="5.2" fill="#ea3425" stroke="#231f20" stroke-width="2.6"/>
<text transform="translate(323.345 831) scale(0.9273 1)" font-size="26.4">La</text>
<rect x="393.16" y="811.5" width="26.2" height="26.1" rx="5.2" ry="5.2" fill="#4590c7" stroke="#231f20" stroke-width="2.6"/>
<text transform="translate(430.036 831) scale(0.9638 1)" font-size="26.4">Ce</text>
<rect x="500.04" y="811.5" width="26.2" height="26.1" rx="5.2" ry="5.2" fill="#5cb85c" stroke="#231f20" stroke-width="2.6"/>
<text transform="translate(535.945 831) scale(0.9773 1)" font-size="26.4">Pr</text>
<rect x="606.92" y="811.5" width="26.2" height="26.1" rx="5.2" ry="5.2" fill="#a867aa" stroke="#231f20" stroke-width="2.6"/>
<text transform="translate(642.398 831) scale(1.0512 1)" font-size="26.4">Nd</text>
<rect x="713.8" y="811.5" width="26.2" height="26.1" rx="5.2" ry="5.2" fill="#abb8de" stroke="#231f20" stroke-width="2.6"/>
<text transform="translate(750.488 831) scale(0.9492 1)" font-size="26.4">other REE</text>
<text transform="translate(151.11 1282.9) rotate(60) scale(0.965 1)" font-size="26.4">Mineral sand</text>
<text transform="translate(241.83 1282.9) rotate(60)" font-size="26.4">wt</text>
<text transform="translate(332.55 1282.9) rotate(60)" font-size="26.4">P<tspan font-size="21.65" dy="4.7">tufB</tspan><tspan dy="-4.7">:mgdh</tspan></text>
<text transform="translate(423.27 1282.9) rotate(60)" font-size="26.4">P<tspan font-size="21.65" dy="4.7">112</tspan><tspan dy="-4.7">:mgdh</tspan></text>
<text transform="translate(513.99 1282.9) rotate(60)" font-size="26.4">P<tspan font-size="21.65" dy="4.7">114</tspan><tspan dy="-4.7">:mgdh</tspan></text>
<text transform="translate(604.71 1282.9) rotate(60)" font-size="26.4">ΔpstS</text>
<text transform="translate(695.43 1282.9) rotate(60) scale(0.99 1)" font-size="26.4">ΔpstS, P<tspan font-size="21.65" dy="4.7">tufB</tspan><tspan dy="-4.7">:mgdh</tspan></text>
<text transform="translate(786.15 1282.9) rotate(60) scale(0.99 1)" font-size="26.4">ΔpstS, P<tspan font-size="21.65" dy="4.7">112</tspan><tspan dy="-4.7">:mgdh</tspan></text>
<text transform="translate(876.87 1282.9) rotate(60) scale(0.99 1)" font-size="26.4">ΔpstS, P<tspan font-size="21.65" dy="4.7">114</tspan><tspan dy="-4.7">:mgdh</tspan></text>
<text transform="translate(157.192 792) scale(1.0079 1)" font-size="34.8" font-weight="bold" class="b">C.</text>
<text transform="translate(201.605 792) scale(0.9977 1)" font-size="34.8" font-weight="bold" class="b">No</text>
<text transform="translate(257.412 792) scale(0.9756 1)" font-size="34.8" font-weight="bold" class="b">Strain</text>
<text transform="translate(363.216 792) scale(0.968 1)" font-size="34.8" font-weight="bold" class="b">Alters</text>
<text transform="translate(470.4 792) scale(0.958 1)" font-size="34.8" font-weight="bold" class="b">the</text>
<text transform="translate(529.609 792) scale(0.9953 1)" font-size="34.8" font-weight="bold" class="b">Leachate</text>
<text transform="translate(689.822 792) scale(0.9783 1)" font-size="34.8" font-weight="bold" class="b">Composition</text>
<text transform="translate(22 1307.8) rotate(-90) translate(-0.537 0) scale(0.9825 1)" font-size="30.3" font-weight="bold" class="b">Composition</text>
<text transform="translate(22 1307.8) rotate(-90) translate(189.67 0) scale(0.9735 1)" font-size="30.3" font-weight="bold" class="b">of</text>
<text transform="translate(22 1307.8) rotate(-90) translate(226.576 0) scale(0.9852 1)" font-size="30.3" font-weight="bold" class="b">Bioleached</text>
<text transform="translate(22 1307.8) rotate(-90) translate(394.122 0) scale(0.959 1)" font-size="30.3" font-weight="bold" class="b">REE</text>
<text transform="translate(22 1307.8) rotate(-90) translate(462.66 0) scale(0.9922 1)" font-size="30.3" font-weight="bold" class="b">(%)</text>
<text transform="translate(242.544 1502.3) scale(0.9558 1)" font-size="30.3" font-weight="bold" class="b" font-style="italic">G. oxydans</text>
<text transform="translate(408.212 1502.3) scale(0.975 1)" font-size="30.3" font-weight="bold" class="b">Strain</text>
<text transform="translate(500.599 1502.3) scale(0.972 1)" font-size="30.3" font-weight="bold" class="b">Producing</text>
<text transform="translate(655.432 1502.3) scale(0.9534 1)" font-size="30.3" font-weight="bold" class="b">Biolixiviant</text>
</svg>
</body>
</html>
